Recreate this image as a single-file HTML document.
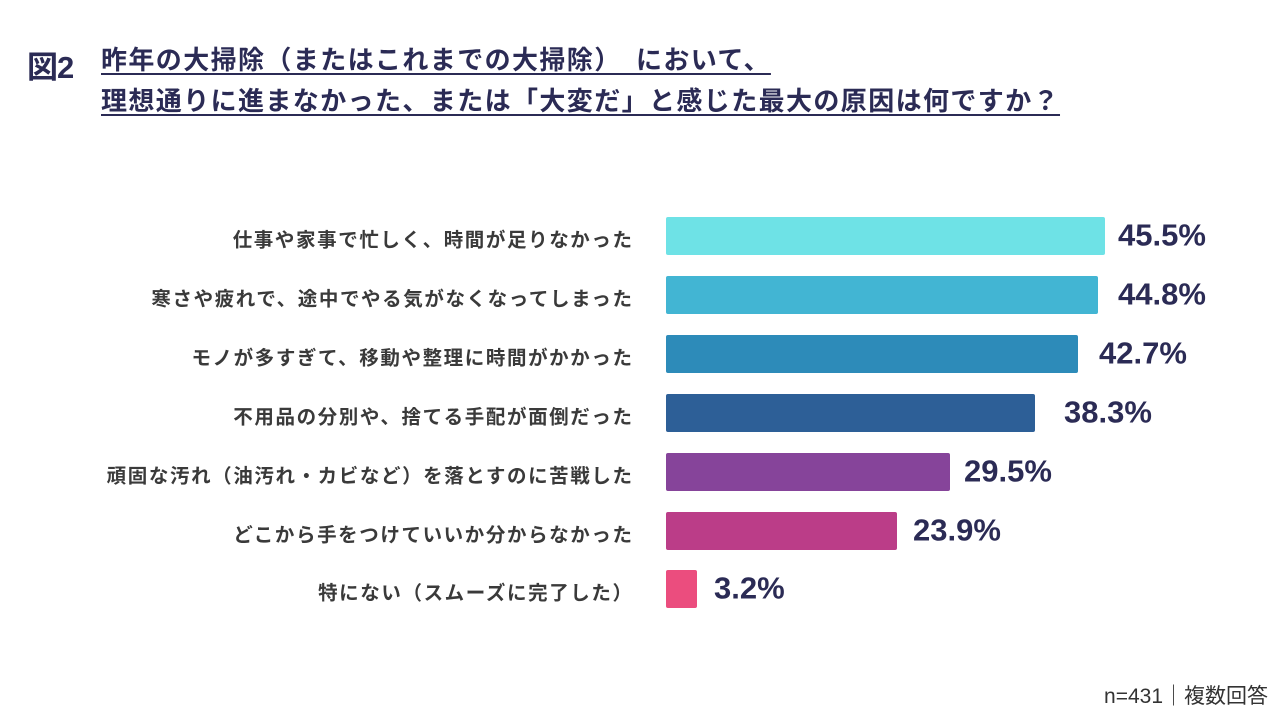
<!DOCTYPE html>
<html><head><meta charset="utf-8"><style>
body{margin:0;width:1280px;height:720px;background:#fff;font-family:"Liberation Sans","Noto Sans CJK JP",sans-serif;position:relative;overflow:hidden;color:#2b2b55}
.t{position:absolute;font-weight:bold;white-space:nowrap}
.fig{left:27px;top:42px;font-size:31px;letter-spacing:-1px}
.ti{left:101px;font-size:26px;letter-spacing:1.4px;text-decoration:underline;text-decoration-thickness:2px;text-underline-offset:4px}
.lb{position:absolute;right:648px;font-size:19.5px;letter-spacing:1.6px;margin-right:-1.6px;font-weight:bold;color:#3a3a3a;white-space:nowrap;transform:translateY(-50%)}
.bar{position:absolute;left:666px;height:38px;border-radius:2px;transform:translateY(-50%)}
.v{position:absolute;font-weight:bold;font-size:31px;transform:translateY(-52%);white-space:nowrap}
.n{position:absolute;right:12px;bottom:10px;font-size:21px;color:#333}
</style></head><body>
<div class="t fig">図2</div>
<div class="t ti" style="top:40px">昨年の大掃除（またはこれまでの大掃除）　において、</div>
<div class="t ti" style="top:81px">理想通りに進まなかった、または「大変だ」と感じた最大の原因は何ですか？</div>

<div class="lb" style="top:238px">仕事や家事で忙しく、時間が足りなかった</div>
<div class="bar" style="top:236px;width:439px;background:#6ee2e6"></div>
<div class="v" style="top:236px;left:1118px">45.5%</div>

<div class="lb" style="top:297px">寒さや疲れで、途中でやる気がなくなってしまった</div>
<div class="bar" style="top:295px;width:432px;background:#42b5d3"></div>
<div class="v" style="top:295px;left:1118px">44.8%</div>

<div class="lb" style="top:356px">モノが多すぎて、移動や整理に時間がかかった</div>
<div class="bar" style="top:354px;width:412px;background:#2d8bb9"></div>
<div class="v" style="top:354px;left:1099px">42.7%</div>

<div class="lb" style="top:415px">不用品の分別や、捨てる手配が面倒だった</div>
<div class="bar" style="top:413px;width:369px;background:#2d5f97"></div>
<div class="v" style="top:413px;left:1064px">38.3%</div>

<div class="lb" style="top:474px">頑固な汚れ（油汚れ・カビなど）を落とすのに苦戦した</div>
<div class="bar" style="top:472px;width:284px;background:#86449a"></div>
<div class="v" style="top:472px;left:964px">29.5%</div>

<div class="lb" style="top:533px">どこから手をつけていいか分からなかった</div>
<div class="bar" style="top:531px;width:231px;background:#bb3d88"></div>
<div class="v" style="top:531px;left:913px">23.9%</div>

<div class="lb" style="top:591px">特にない（スムーズに完了した）</div>
<div class="bar" style="top:589px;width:31px;background:#eb4d7e"></div>
<div class="v" style="top:589px;left:714px">3.2%</div>

<div class="n">n=431｜複数回答</div>
</body></html>
